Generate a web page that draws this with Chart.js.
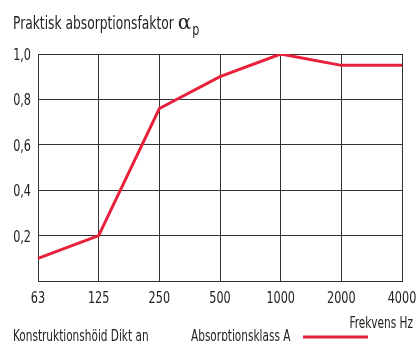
<!DOCTYPE html>
<html>
<head>
<meta charset="utf-8">
<script src="https://cdn.jsdelivr.net/npm/chart.js@4"></script>
<style>
  html, body { margin: 0; padding: 0; background: #fff; }
  #wrap { width: 417px; height: 341px; }
</style>
</head>
<body>
<div id="wrap"><canvas id="myChart" width="417" height="341"></canvas></div>
<script>
const frequencies = ['63', '125', '250', '500', '1000', '2000', '4000'];
const absorption = [0.10, 0.20, 0.76, 0.90, 1.00, 0.95, 0.95];
const yTicks = [0, 0.2, 0.4, 0.6, 0.8, 1.0];

const FONT = '"DejaVu Sans Condensed", "DejaVu Sans", sans-serif';
const TEXT = '#222';
const RED = '#e8203a';
const SQUEEZE = 0.78; // the lettering is much narrower than any installed face

// draws horizontally squeezed text, returns its drawn width
function narrowText(c, str, x, y, size, align) {
  c.font = size + 'px ' + FONT;
  const w = c.measureText(str).width * SQUEEZE;
  let left = x;
  if (align === 'right') left = x - w;
  else if (align === 'center') left = x - w / 2;
  c.save();
  c.translate(left, y);
  c.scale(SQUEEZE, 1);
  c.textAlign = 'left';
  c.fillText(str, 0, 0);
  c.restore();
  return w;
}

// tick labels, title, axis caption and the bottom legend row
const captions = {
  id: 'captions',
  afterDraw(chart) {
    const c = chart.ctx;
    const xs = chart.scales.x;
    const ys = chart.scales.y;
    c.save();
    c.fillStyle = TEXT;
    c.textBaseline = 'alphabetic';

    frequencies.forEach((f, i) => {
      narrowText(c, f, xs.getPixelForValue(i), 303, 16, 'center');
    });
    yTicks.forEach(v => {
      if (v === 0) return;
      const lbl = v.toFixed(1).replace('.', ',');
      narrowText(c, lbl, 31, ys.getPixelForValue(v) + 6, 16, 'right');
    });

    let x = 13;
    x += narrowText(c, 'Praktisk absorptionsfaktor ', x, 29, 17.5, 'left');
    c.font = '20px "DejaVu Serif", serif';
    c.textAlign = 'left';
    c.fillText('α', x, 29);
    x += c.measureText('α').width;
    narrowText(c, 'p', x + 1, 35, 16, 'left');

    narrowText(c, 'Frekvens Hz', 413, 328, 15, 'right');
    narrowText(c, 'Konstruktionshöid Dikt an', 13, 341, 15, 'left');
    narrowText(c, 'Absorptionsklass A', 191, 341, 15, 'left');

    c.strokeStyle = RED;
    c.lineWidth = 3;
    c.beginPath();
    c.moveTo(303, 337);
    c.lineTo(368, 337);
    c.stroke();
    c.restore();
  }
};

const ctx = document.getElementById('myChart').getContext('2d');

new Chart(ctx, {
  type: 'line',
  data: {
    labels: frequencies,
    datasets: [{
      label: 'Absorptionsklass A',
      data: absorption,
      borderColor: RED,
      borderWidth: 3,
      pointRadius: 0,
      tension: 0,
      fill: false
    }]
  },
  options: {
    responsive: false,
    animation: false,
    layout: { padding: { top: 54, right: 15, left: 0, bottom: 0 } },
    plugins: {
      legend: { display: false },
      tooltip: { enabled: false }
    },
    scales: {
      x: {
        type: 'category',
        offset: false,
        afterFit: s => { s.height = 60; },
        grid: { color: '#333', lineWidth: 1, drawTicks: false },
        border: { color: '#333', width: 1 },
        ticks: { display: false }
      },
      y: {
        min: 0,
        max: 1,
        afterFit: s => { s.width = 38; },
        afterBuildTicks: s => { s.ticks = yTicks.map(v => ({ value: v })); },
        grid: { color: '#333', lineWidth: 1, drawTicks: false },
        border: { color: '#333', width: 1 },
        ticks: { display: false }
      }
    }
  },
  plugins: [captions]
});
</script>
</body>
</html>
